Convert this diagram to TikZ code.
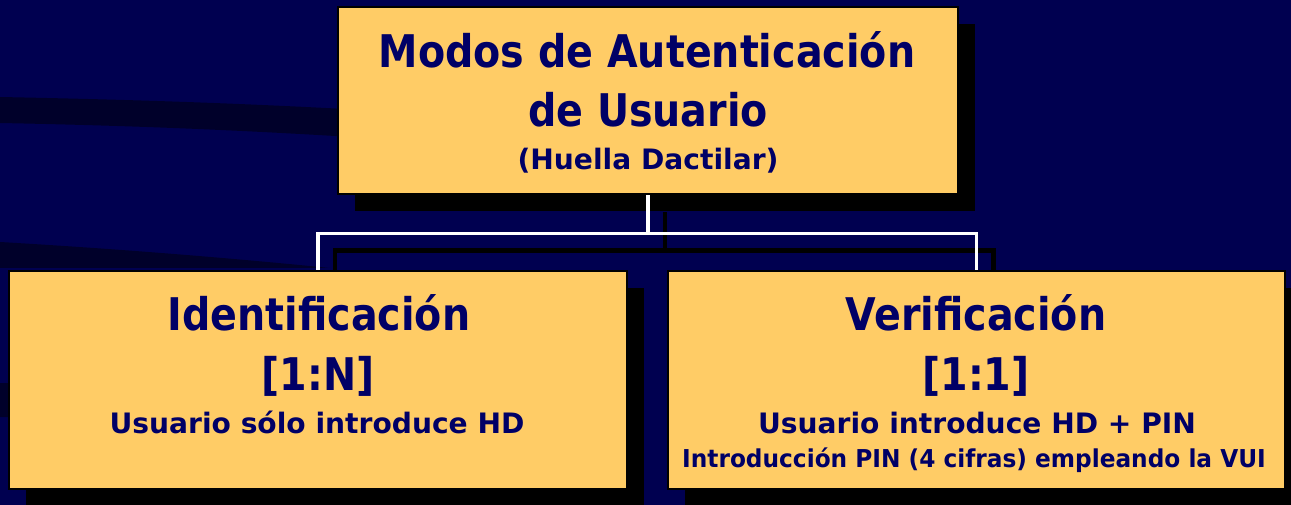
\documentclass[tikz,border=0pt]{standalone}
\usepackage{fontspec}
\newfontfamily\bigfont{DejaVu Sans}[FakeStretch=0.88]
\newfontfamily\smallfont{DejaVu Sans}
\newfontfamily\narrowfont{DejaVu Sans}[FakeStretch=0.945]
\usepackage{tikz}
\usetikzlibrary{shadows,calc}
\definecolor{fondo}{HTML}{000050}
\definecolor{franja}{HTML}{00002A}
\definecolor{caja}{HTML}{FFCC66}
\definecolor{letra}{HTML}{000066}
\pgfdeclarelayer{back}
\pgfsetlayers{back,main}
\tikzstyle{box} = [draw=black, line width=2pt, fill=caja, inner sep=0pt,
	drop shadow={shadow xshift=0.425cm, shadow yshift=-0.425cm, fill=black, opacity=1}]
\tikzstyle{big} = [text=letra, inner sep=0pt, anchor=base, font=\bigfont\bfseries\fontsize{32}{38}\selectfont]
\tikzstyle{mid} = [text=letra, inner sep=0pt, anchor=base, font=\smallfont\bfseries\fontsize{20}{24}\selectfont]
\tikzstyle{small} = [text=letra, inner sep=0pt, anchor=base, font=\narrowfont\bfseries\fontsize{17.5}{21}\selectfont]
\tikzstyle{wire} = [white, line width=2.2pt]
\tikzstyle{wireshadow} = [black, line width=3pt, transform canvas={xshift=0.425cm, yshift=-0.425cm}]

\begin{document}
\begin{tikzpicture}[x=0.025cm, y=-0.025cm]
	\useasboundingbox (0,0) rectangle (1291,505);
	% cajas
	\node[box, minimum width=15.5cm, minimum height=4.675cm] (modos) at (648,100.5) {};
	\node[box, minimum width=15.45cm, minimum height=5.45cm] (ident) at (318,380) {};
	\node[box, minimum width=15.425cm, minimum height=5.45cm] (verif) at (976.5,380) {};
	% textos
	\node[big] (modos1) at (647,68) {Modos de Autenticación};
	\node[big] (modos2) at (648,127) {de Usuario};
	\node[mid] (modos3) at (648,170) {(Huella Dactilar)};
	\node[big] (ident1) at (319,330) {Identificación};
	\node[big] (ident2) at (318,390) {[1:N]};
	\node[mid] (ident3) at (317,433) {Usuario sólo introduce HD};
	\node[big] (verif1) at (976,330) {Verificación};
	\node[big] (verif2) at (976,390) {[1:1]};
	\node[mid] (verif3) at (977,433) {Usuario introduce HD + PIN};
	\node[small] (verif4) at (974,467) {Introducción PIN (4 cifras) empleando la VUI};
	% conectores
	\coordinate (fork) at ($(modos.south)+(0,38)$);
	\draw[wire] (modos.south) -- (fork);
	\draw[wire] (ident.north) |- (fork) -| (verif.north);
	% fondo
	\begin{pgfonlayer}{back}
		\fill[fondo] (0,0) rectangle (1291,505);
		\fill[franja] (0,97) .. controls (150,100) and (260,104) .. (400,112)
			-- (400,140) .. controls (260,131) and (150,126) .. (0,123) -- cycle;
		\fill[franja] (0,242) .. controls (120,249) and (230,258) .. (330,268)
			-- (0,268) -- cycle;
		\fill[franja] (0,383) -- (40,384) -- (40,418) -- (0,417) -- cycle;
		\draw[wireshadow] (modos.south) -- (fork);
		\draw[wireshadow] (ident.north) |- (fork) -| (verif.north);
	\end{pgfonlayer}
\end{tikzpicture}
\end{document}
